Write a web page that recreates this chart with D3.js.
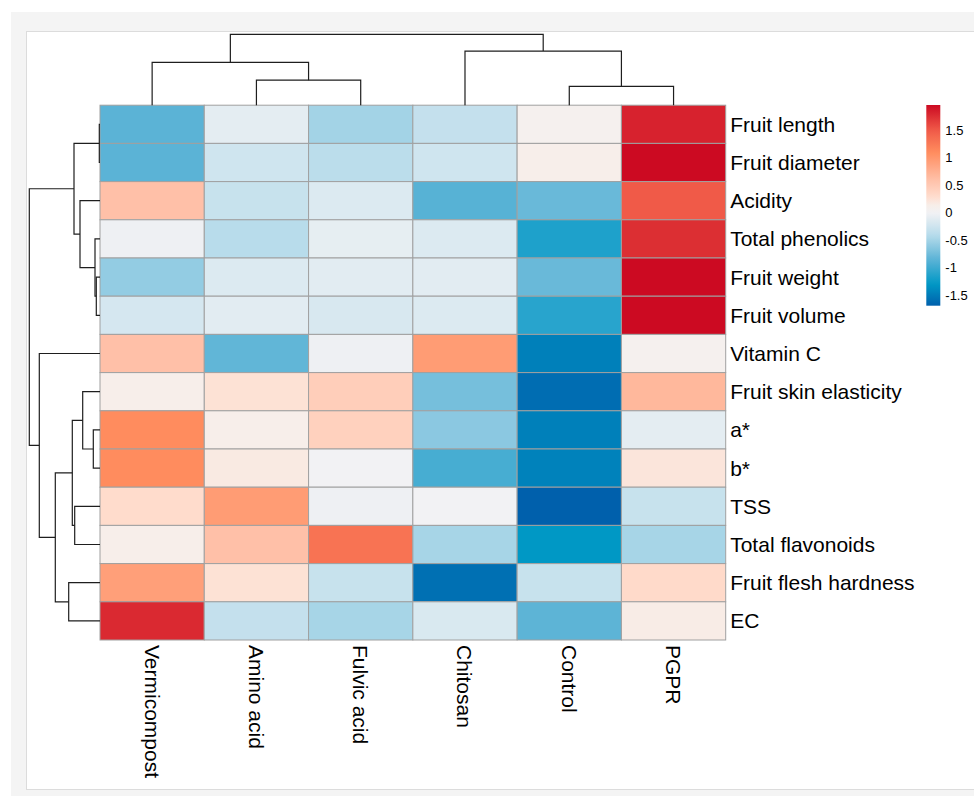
<!DOCTYPE html>
<html>
<head>
<meta charset="utf-8">
<script src="https://cdn.jsdelivr.net/npm/d3@7"></script>
<style>
  body { margin: 0; background: #fff; }
  svg { display: block; font-family: "Liberation Sans", Arial, sans-serif; }
</style>
</head>
<body>
<svg id="chart" width="974" height="796"></svg>
<script>
// treatments, in dendrogram order
const colNames = ["Vermicompost", "Amino acid", "Fulvic acid", "Chitosan", "Control", "PGPR"];
const rowNames = ["Fruit length", "Fruit diameter", "Acidity", "Total phenolics", "Fruit weight",
  "Fruit volume", "Vitamin C", "Fruit skin elasticity", "a*", "b*", "TSS", "Total flavonoids",
  "Fruit flesh hardness", "EC"];

// scaled values (z-score), one array per row, columns in colNames order
const fruitLength     = [-0.85, -0.10, -0.50, -0.32,  0.07,  1.82];
const fruitDiameter   = [-0.85, -0.24, -0.38, -0.24,  0.12,  1.96];
const acidity         = [ 0.60, -0.30, -0.15, -0.87, -0.78,  1.50];
const totalPhenolics  = [-0.03, -0.40, -0.08, -0.15, -1.15,  1.75];
const fruitWeight     = [-0.58, -0.15, -0.11, -0.11, -0.78,  1.96];
const fruitVolume     = [-0.20, -0.11, -0.18, -0.15, -1.10,  1.96];
const vitaminC        = [ 0.60, -0.82, -0.03,  0.95, -1.47,  0.07];
const skinElasticity  = [ 0.12,  0.25,  0.45, -0.72, -1.60,  0.68];
const aStar           = [ 1.10,  0.12,  0.42, -0.62, -1.47, -0.10];
const bStar           = [ 1.10,  0.18,  0.00, -0.95, -1.45,  0.22];
const tss             = [ 0.30,  0.95, -0.03,  0.00, -1.69, -0.30];
const totalFlavonoids = [ 0.12,  0.60,  1.30, -0.48, -1.30, -0.48];
const fleshHardness   = [ 0.92,  0.25, -0.30, -1.58, -0.30,  0.32];
const ec              = [ 1.78, -0.32, -0.48, -0.17, -0.84,  0.16];
const values = [fruitLength, fruitDiameter, acidity, totalPhenolics, fruitWeight, fruitVolume,
  vitaminC, skinElasticity, aStar, bStar, tss, totalFlavonoids, fleshHardness, ec];

// hclust style merges: negative = leaf (1-based), positive = earlier merge
const colMerge   = [[-2, -3], [-5, -6], [-1, 1], [-4, 2], [3, 4]];
const colHeights = [2.50, 1.87, 4.27, 5.40, 7.07];
const rowMerge   = [[-1, -2], [-5, -6], [-4, 2], [-3, 3], [1, 4], [-9, -10], [-8, 6],
  [-11, -12], [7, 8], [-13, -14], [9, 10], [-7, 11], [5, 12]];
const rowHeights = [0.07, 0.37, 0.50, 2.00, 2.60, 0.67, 1.73, 2.53, 2.77, 3.13, 4.47, 6.07, 7.07];

const legendTicks = [-1.5, -1, -0.5, 0, 0.5, 1, 1.5];

const svg = d3.select("#chart");

// page frame
svg.append("rect").attr("x", 11).attr("y", 12).attr("width", 963).attr("height", 784).attr("fill", "#f4f4f4");
svg.append("rect").attr("x", 26.5).attr("y", 31.5).attr("width", 960).attr("height", 758)
  .attr("fill", "#fff").attr("stroke", "#dcdcdc");

const heat = {left: 100, top: 105.2, width: 625.7, height: 534.8};

const x = d3.scaleBand().domain(colNames).range([heat.left, heat.left + heat.width]);
const y = d3.scaleBand().domain(rowNames).range([heat.top, heat.top + heat.height]);

const allVals = values.flat();
const vMin = d3.min(allVals), vMax = d3.max(allVals);

const color = d3.scaleLinear()
  .domain([-1.69, -1.3, -0.85, -0.4, 0, 0.15, 0.3, 0.6, 1.1, 1.5, 1.96])
  .range(["#0060ac", "#0098c5", "#5bb3d6", "#b8dceb", "#f2f2f4", "#f8ede8", "#ffdccc",
    "#ffc0a8", "#ff8c5e", "#f05a48", "#cc0a22"])
  .interpolate(d3.interpolateRgb)
  .clamp(true);

// cells
const cells = [];
values.forEach(function(row, i) {
  row.forEach(function(v, j) { cells.push({row: rowNames[i], col: colNames[j], v: v}); });
});

svg.append("g").selectAll("rect")
  .data(cells)
  .join("rect")
  .attr("x", d => x(d.col))
  .attr("y", d => y(d.row))
  .attr("width", x.bandwidth())
  .attr("height", y.bandwidth())
  .attr("fill", d => color(d.v))
  .attr("stroke", "#a0a0a0")
  .attr("stroke-width", 1);

// build a tree from the merge list
function buildTree(merge, heights, names) {
  const nodes = [];
  merge.forEach(function(m, k) {
    const kids = m.map(function(id) {
      return id < 0 ? {name: names[-id - 1], h: 0} : nodes[id - 1];
    });
    nodes.push({h: heights[k], children: kids});
  });
  return d3.hierarchy(nodes[nodes.length - 1]);
}

function elbows(root, pos, hScale, vertical) {
  root.eachAfter(function(n) {
    n.p = n.children ? d3.mean(n.children, c => c.p) : pos(n.data.name);
  });
  const paths = [];
  root.each(function(n) {
    if (!n.children) return;
    const a = n.children[0], b = n.children[1];
    if (vertical) {
      paths.push("M" + a.p + "," + hScale(a.data.h) + "V" + hScale(n.data.h) +
        "H" + b.p + "V" + hScale(b.data.h));
    } else {
      paths.push("M" + hScale(a.data.h) + "," + a.p + "H" + hScale(n.data.h) +
        "V" + b.p + "H" + hScale(b.data.h));
    }
  });
  return paths;
}

const colTree = buildTree(colMerge, colHeights, colNames);
const colH = d3.scaleLinear().domain([0, d3.max(colHeights)]).range([heat.top, 34.3]);
svg.append("g").selectAll("path")
  .data(elbows(colTree, d => x(d) + x.bandwidth() / 2, colH, true))
  .join("path")
  .attr("d", d => d)
  .attr("fill", "none")
  .attr("stroke", "#1e1e1e")
  .attr("stroke-width", 1.2);

const rowTree = buildTree(rowMerge, rowHeights, rowNames);
const rowH = d3.scaleLinear().domain([0, d3.max(rowHeights)]).range([heat.left, 29.3]);
svg.append("g").selectAll("path")
  .data(elbows(rowTree, d => y(d) + y.bandwidth() / 2, rowH, false))
  .join("path")
  .attr("d", d => d)
  .attr("fill", "none")
  .attr("stroke", "#1e1e1e")
  .attr("stroke-width", 1.2);

// row labels
svg.append("g").selectAll("text")
  .data(rowNames)
  .join("text")
  .attr("x", heat.left + heat.width + 4.5)
  .attr("y", d => y(d) + y.bandwidth() / 2)
  .attr("dy", "0.36em")
  .style("font-size", "21px")
  .attr("fill", "#000")
  .text(d => d);

// column labels
svg.append("g").selectAll("text")
  .data(colNames)
  .join("text")
  .attr("transform", d => "translate(" + (x(d) + x.bandwidth() / 2) + "," + (heat.top + heat.height + 5) + ") rotate(90)")
  .attr("dy", "0.36em")
  .style("font-size", "21px")
  .attr("fill", "#000")
  .text(d => d);

// legend
const leg = {x: 926.3, top: 105, bottom: 305.7, width: 14};
const legY = d3.scaleLinear().domain([vMin, vMax]).range([leg.bottom, leg.top]);

const grad = svg.append("defs").append("linearGradient")
  .attr("id", "legGrad")
  .attr("x1", 0).attr("y1", 1).attr("x2", 0).attr("y2", 0);
d3.range(0, 1.0001, 0.02).forEach(function(t) {
  grad.append("stop")
    .attr("offset", t)
    .attr("stop-color", color(vMin + t * (vMax - vMin)));
});

svg.append("rect")
  .attr("x", leg.x)
  .attr("y", leg.top)
  .attr("width", leg.width)
  .attr("height", leg.bottom - leg.top)
  .attr("fill", "url(#legGrad)");

const legAxis = svg.append("g")
  .attr("transform", "translate(" + (leg.x + leg.width) + ",0)")
  .call(d3.axisRight(legY).tickValues(legendTicks).tickSize(0).tickPadding(5)
    .tickFormat(d => String(d)));
legAxis.select(".domain").remove();
legAxis.selectAll("text")
  .style("font-family", "Liberation Sans, Arial, sans-serif")
  .style("font-size", "13px")
  .attr("fill", "#000");
</script>
</body>
</html>
